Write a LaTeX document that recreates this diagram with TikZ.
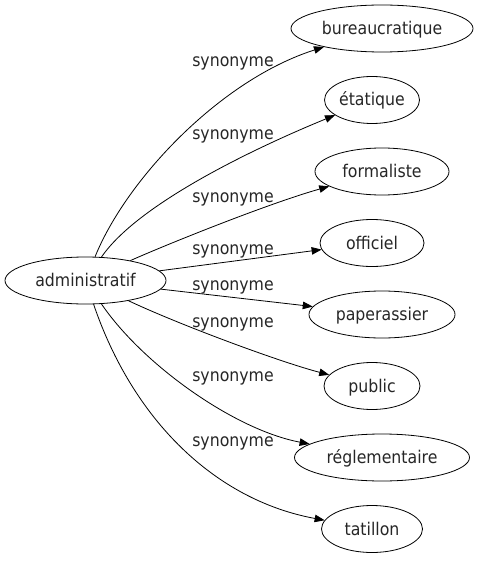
\documentclass[tikz,border=0pt]{standalone}
\usepackage{fontspec}
\setmainfont{DejaVu Sans}[FakeStretch=0.9]
\usetikzlibrary{shapes.geometric,arrows.meta}
\begin{document}
\begin{tikzpicture}[x=1bp,y=-1bp,
  every node/.style={font=\fontsize{17.5bp}{20bp}\selectfont, text=black!85},
  word/.style={draw, ellipse, inner sep=0pt, minimum height=47bp, line width=0.8bp, text height=13bp, text depth=1bp},
  rel/.style={anchor=base, inner sep=0pt},
  link/.style={draw, line width=0.8bp, -{Triangle[length=10bp,width=7.5bp]}}]
\useasboundingbox (0,0) rectangle (479,563);
\node[word, minimum width=161bp] (adm) at (85.5,280.5) {administratif};
\node[word, minimum width=182bp] (bur) at (382,28.5) {bureaucratique};
\node[word, minimum width=95bp]  (eta) at (372,100) {étatique};
\node[word, minimum width=134bp] (for) at (382,171.5) {formaliste};
\node[word, minimum width=104bp] (off) at (372,243) {officiel};
\node[word, minimum width=146bp] (pap) at (382,314.5) {paperassier};
\node[word, minimum width=96bp]  (pub) at (372,386) {public};
\node[word, minimum width=175bp] (reg) at (382,457.5) {réglementaire};
\node[word, minimum width=101bp] (tat) at (372,529) {tatillon};
\draw[link] (adm) .. controls (126,180) and (220,80) .. (bur);
\draw[link] (adm) .. controls (137,205) and (250,150) .. (eta);
\draw[link] (adm) .. controls (170,243) and (270,203) .. (for);
\draw[link] (adm) -- (off);
\draw[link] (adm) -- (pap);
\draw[link] (adm) .. controls (180,325) and (280,362) .. (pub);
\draw[link] (adm) .. controls (143,365) and (235,430) .. (reg);
\draw[link] (adm) .. controls (133,420) and (215,500) .. (tat);
\node[rel] (l1) at (233,67) {synonyme};
\node[rel] (l2) at (233,140) {synonyme};
\node[rel] (l3) at (233,202) {synonyme};
\node[rel] (l4) at (233,254) {synonyme};
\node[rel] (l5) at (233,290) {synonyme};
\node[rel] (l6) at (233,327) {synonyme};
\node[rel] (l7) at (233,381) {synonyme};
\node[rel] (l8) at (233,446) {synonyme};
\end{tikzpicture}
\end{document}
